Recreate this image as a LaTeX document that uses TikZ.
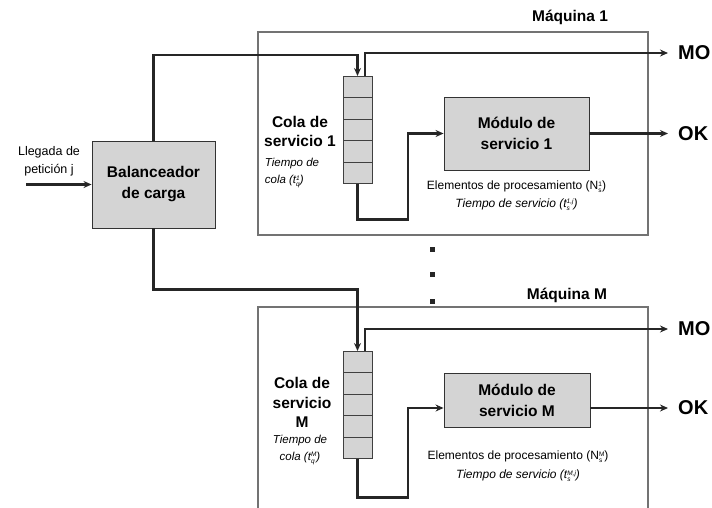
\documentclass[tikz,border=0pt]{standalone}
\usepackage{fontspec}
\setmainfont{Liberation Sans}
\usetikzlibrary{arrows.meta, positioning}
\newcommand{\indice}[2]{\raisebox{-3pt}{\fontsize{6.5}{6.5}\selectfont\begin{tabular}[b]{@{}l@{}}#1\\#2\end{tabular}}}

\begin{document}
\begin{tikzpicture}[
        x=1pt, y=-1pt,
        maquina/.style={
            draw=black!55,
            line width=1.1pt,
            minimum width=390pt,
            inner sep=0pt
        },
        box/.style={
            draw=black!80,
            line width=0.9pt,
            fill=black!17,
            align=center,
            inner sep=0pt,
            font=\bfseries\fontsize{15.5}{21}\selectfont
        },
        cell/.style={
            draw=black!75,
            line width=0.8pt,
            fill=black!17,
            minimum width=29pt,
            minimum height=21.5pt,
            inner sep=0pt,
            outer sep=0pt
        },
        negrita/.style={align=center, font=\bfseries\fontsize{15.5}{19.5}\selectfont},
        cursiva/.style={align=left, font=\itshape\fontsize{11.5}{17}\selectfont},
        nota/.style={align=center, font=\fontsize{12}{17.5}\selectfont},
        salida/.style={anchor=west, inner xsep=10pt, inner ysep=0pt, font=\bfseries\fontsize{20}{20}\selectfont},
        punto/.style={fill=black!85, minimum size=5pt, inner sep=0pt},
        arrow/.style={-{Stealth[length=8pt, width=7pt]}, line width=2.1pt, draw=black!85}
    ]

        \clip (0,0) rectangle (712,507);

        % maquinas
        \node[maquina, minimum height=203pt] (maq1) at (453,133.5) {};
        \node[maquina, minimum height=206pt] (maqM) at (453,410) {};
        \node[negrita] (tmaq1) at (570,17) {Máquina 1};
        \node[negrita] (tmaqM) at (567,295) {Máquina M};

        % entrada y balanceador
        \node[box, minimum width=123pt, minimum height=87pt] (bal) at (153.5,184.5) {Balanceador\\ de carga};
        \node[nota, font=\fontsize{12.5}{18}\selectfont] (lleg) at (49,161.5) {Llegada de\\ petición j};
        \coordinate (ent) at (26,184.5);

        % cola de la maquina 1
        \node[cell] (q1a) at (357.5,86.75) {};
        \node[cell, below=0pt of q1a] (q1b) {};
        \node[cell, below=0pt of q1b] (q1c) {};
        \node[cell, below=0pt of q1c] (q1d) {};
        \node[cell, below=0pt of q1d] (q1e) {};
        \node[negrita] (cola1) at (300,131.5) {Cola de\\ servicio 1};
        \node[cursiva] (tcola1) at (292,173.5) {Tiempo de\\ cola (t\indice{1}{q})};

        \node[box, minimum width=145pt, minimum height=73pt] (mod1) at (516.5,133.5) {Módulo de\\ servicio 1};
        \node[nota, below=7pt of mod1] (elem1) {Elementos de procesamiento (N\indice{1}{s})\\
        \textit{Tiempo de servicio (t\indice{1,j}{s})}};
        \coordinate (k1) at (408,133.5);

        \node[salida] (mo1) at (668,53) {MO};
        \node[salida] (ok1) at (668,133.5) {OK};

        % puntos
        \node[punto] (d1) at (432,249) {};
        \node[punto] (d2) at (432,274) {};
        \node[punto] (d3) at (432,301) {};

        % cola de la maquina M
        \node[cell] (qMa) at (357.5,361.75) {};
        \node[cell, below=0pt of qMa] (qMb) {};
        \node[cell, below=0pt of qMb] (qMc) {};
        \node[cell, below=0pt of qMc] (qMd) {};
        \node[cell, below=0pt of qMd] (qMe) {};
        \node[negrita] (colaM) at (302,402.5) {Cola de\\ servicio\\ M};
        \node[cursiva, align=center] (tcolaM) at (300,450) {Tiempo de\\ cola (t\indice{M}{q})};

        \node[box, minimum width=146pt, minimum height=54pt] (modM) at (517,400) {Módulo de\\ servicio M};
        \node[nota, font=\fontsize{12}{19}\selectfont] (elemM) at (518,467.5) {Elementos de procesamiento (N\indice{M}{s})\\
        \textit{Tiempo de servicio (t\indice{M,j}{s})}};
        \coordinate (kM) at (408,408);

        \node[salida] (moM) at (668,329) {MO};
        \node[salida] (okM) at (668,408) {OK};

        % conexiones
        \draw[arrow] (ent) -- (bal.west);
        \draw[arrow] (bal.north) -- ++(0,-86) -| (q1a.north);
        \draw[arrow] (bal.south) -- ++(0,61) -| (qMa.north);

        \draw[arrow] ([xshift=7.5pt]q1a.north) |- (mo1.west);
        \draw[arrow] (q1e.south) -- ++(0,36) -| (k1) -- (k1 -| mod1.west);
        \draw[arrow] (mod1.east) -- (ok1.west);

        \draw[arrow] ([xshift=7.5pt]qMa.north) |- (moM.west);
        \draw[arrow] (qMe.south) -- ++(0,39) -| (kM) -- (kM -| modM.west);
        \draw[arrow] (kM -| modM.east) -- (okM.west);

    \end{tikzpicture}
\end{document}
